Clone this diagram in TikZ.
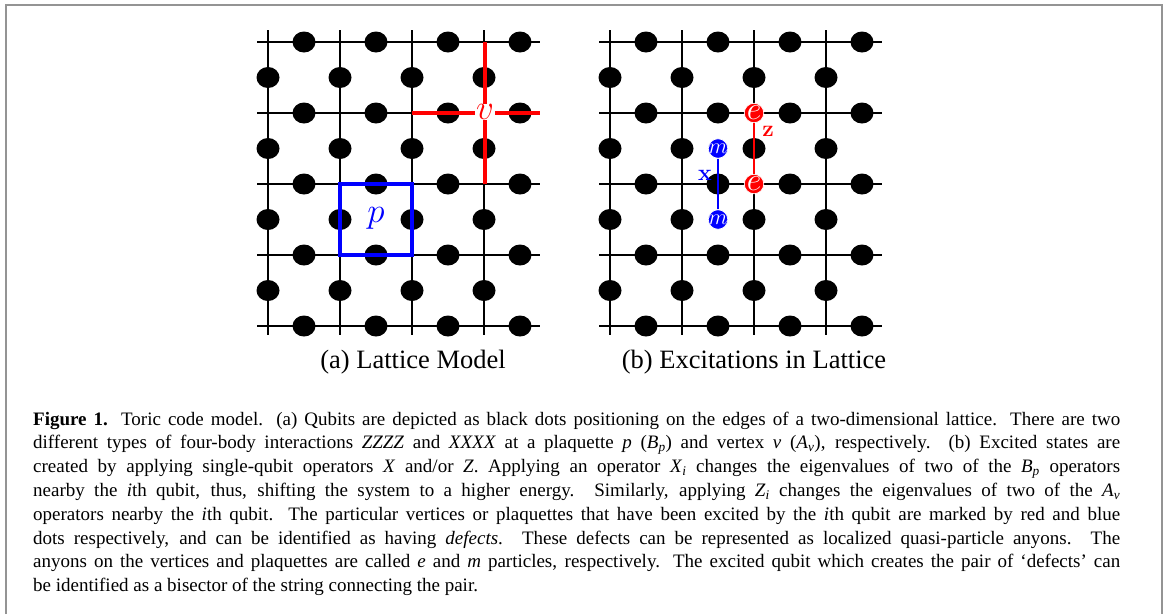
\RequirePackage{fix-cm}
\documentclass[tikz,border=0pt]{standalone}
\usepackage{fontspec}
\setmainfont{Liberation Serif}
\tikzset{
  latline/.style={line width=2pt, black},
  redop/.style={line width=3.2pt, red},
  blueop/.style={line width=3.2pt, blue},
  oplabel/.style={inner sep=0.6pt, font=\fontsize{35}{35}\selectfont},
  echarge/.style={circle, fill=red, draw=white, line width=0.7pt, inner sep=0pt, minimum size=19.5pt, text=white, font=\fontsize{32}{32}\selectfont},
  mcharge/.style={circle, fill=blue, draw=white, line width=0.7pt, inner sep=0pt, minimum size=19.5pt, text=white, font=\fontsize{22}{22}\selectfont},
  strlabel/.style={inner sep=0pt, font=\fontsize{23}{23}\usefont{OT1}{cmr}{bx}{n}},
  subcap/.style={inner sep=0pt, font=\fontsize{26.5}{26.5}\selectfont},
  capline/.style={anchor=base west, inner sep=0pt, font=\fontsize{19}{23.8}\selectfont},
  framegray/.style={line width=2pt, color=black!42}
}
\newcommand\drawlattice[1]{%
  \foreach \k in {0,...,3} \draw[latline] ({#1+268+72*\k},30) -- ({#1+268+72*\k},335);
  \foreach \j in {0,...,4} \draw[latline] ({#1+257},{42+71*\j}) -- ({#1+540},{42+71*\j});
  \foreach \j in {0,...,4} \foreach \k in {0,...,3}
    \fill ({#1+304+72*\k},{42+71*\j}) ellipse [x radius=11.5pt, y radius=10.5pt];
  \foreach \j in {0,...,3} \foreach \k in {0,...,3}
    \fill ({#1+268+72*\k},{77.5+71*\j}) ellipse [x radius=11.5pt, y radius=10.5pt];
}
\newcommand\capfill[1]{\makebox[1087pt][s]{#1}}
\begin{document}
\begin{tikzpicture}[x=1pt, y=-1pt]
\useasboundingbox (0,0) rectangle (1166,614);
% frame
\draw[framegray] (6,614) -- (6,5) -- (1162,5) -- (1162,614);

% ---------- (a) lattice model ----------
\drawlattice{0}
\coordinate (vL) at (412,113);
\coordinate (vR) at (540,113);
\coordinate (vT) at (485,42);
\coordinate (vB) at (485,184);
\draw[redop] (vL) -- (vR);
\draw[redop] (vT) -- (vB);
\node[oplabel, fill=white, text=red] (v) at (485,112) {$v$};
\draw[blueop] (340,184) rectangle (412,255);
\node[oplabel, text=blue] (p) at (376,218) {$p$};

% ---------- (b) excitations ----------
\drawlattice{342}
\node[echarge] (e1) at (754,113) {\makebox[0pt]{$e$}};
\node[echarge] (e2) at (754,184) {\makebox[0pt]{$e$}};
\node[mcharge] (m1) at (718,148.5) {\makebox[0pt]{$m$}};
\node[mcharge] (m2) at (718,219.5) {\makebox[0pt]{$m$}};
\draw[red, line width=1.6pt] (e1) -- (e2);
\draw[blue, line width=1.3pt] (m1) -- (m2);
\node[strlabel, text=red] (zl) at (768,131) {z};
\node[strlabel, text=blue] (xl) at (705,175) {x};

% ---------- sub-captions ----------
\node[subcap] (capa) at (413,362) {(a) Lattice Model};
\node[subcap] (capb) at (754,362) {(b) Excitations in Lattice};

% ---------- figure caption ----------
\node[capline] (c1) at (33,425) {\capfill{\textbf{Figure 1.} Toric code model. (a) Qubits are depicted as black dots positioning on the edges of a two-dimensional lattice. There are two}};
\node[capline] (c2) at (33,448.8) {\capfill{different types of four-body interactions \textit{ZZZZ} and \textit{XXXX} at a plaquette \textit{p} (\textit{B}\textsubscript{\textit{p}}) and vertex \textit{v} (\textit{A}\textsubscript{\textit{v}}), respectively. (b) Excited states are}};
\node[capline] (c3) at (33,472.6) {\capfill{created by applying single-qubit operators \textit{X} and/or \textit{Z}. Applying an operator \textit{X}\textsubscript{\textit{i}} changes the eigenvalues of two of the \textit{B}\textsubscript{\textit{p}} operators}};
\node[capline] (c4) at (33,496.4) {\capfill{nearby the \textit{i}th qubit, thus, shifting the system to a higher energy. Similarly, applying \textit{Z}\textsubscript{\textit{i}} changes the eigenvalues of two of the \textit{A}\textsubscript{\textit{v}}}};
\node[capline] (c5) at (33,520.2) {\capfill{operators nearby the \textit{i}th qubit. The particular vertices or plaquettes that have been excited by the \textit{i}th qubit are marked by red and blue}};
\node[capline] (c6) at (33,544) {\capfill{dots respectively, and can be identified as having \textit{defects}. These defects can be represented as localized quasi-particle anyons. The}};
\node[capline] (c7) at (33,567.8) {\capfill{anyons on the vertices and plaquettes are called \textit{e} and \textit{m} particles, respectively. The excited qubit which creates the pair of ‘defects’ can}};
\node[capline] (c8) at (33,591.6) {be identified as a bisector of the string connecting the pair.};
\end{tikzpicture}
\end{document}
